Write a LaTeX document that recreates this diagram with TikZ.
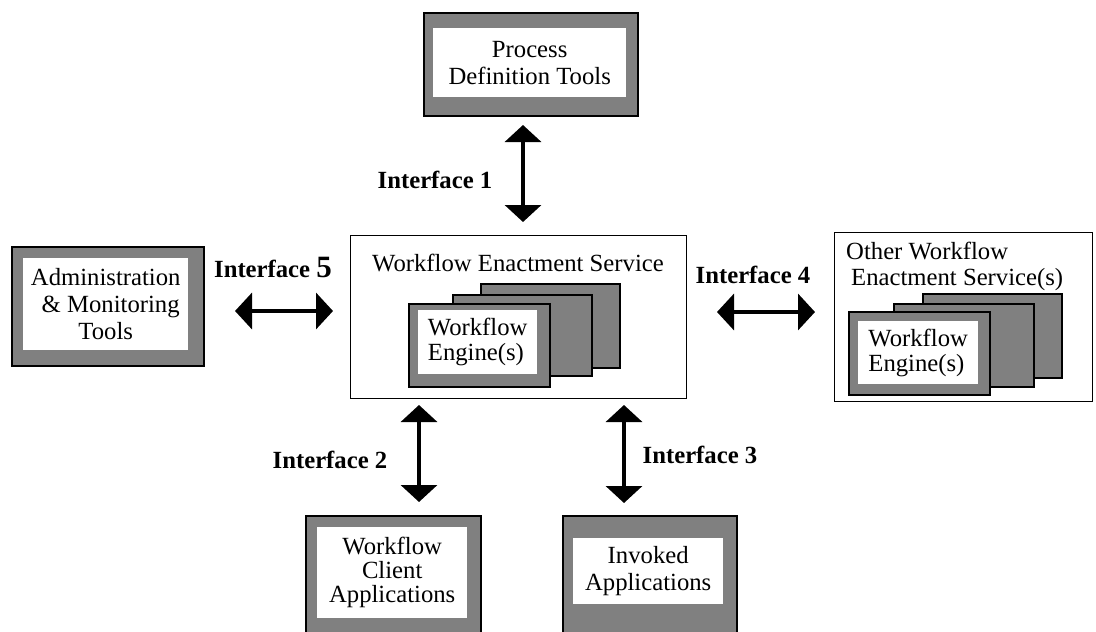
\documentclass[tikz,border=0pt]{standalone}
\usepackage{fontspec}
\setmainfont{Liberation Serif}
\usepackage{xcolor}
\usetikzlibrary{arrows.meta,positioning}
\definecolor{boxgray}{HTML}{808080}

\begin{document}
\begin{tikzpicture}[x=1pt,y=-1pt,font=\fontsize{24.7}{27}\selectfont,
  frame/.style={draw,line width=1.8pt,fill=boxgray,inner sep=0pt,anchor=north west},
  pane/.style={fill=white,inner sep=0pt,anchor=north west,align=center},
  service/.style={draw,line width=1.3pt,fill=white,inner sep=0pt,anchor=north west},
  iface/.style={line width=3.6pt,{Triangle[length=17pt,width=36pt]}-{Triangle[length=17pt,width=36pt]}},
  lbl/.style={font=\fontsize{24.7}{27}\selectfont\bfseries,inner sep=0pt}]
\clip (0,0) rectangle (1096,632);
% process definition tools
\node[frame,minimum width=214pt,minimum height=103pt] (pdt) at (423,12) {};
\node[pane,minimum width=193pt,minimum height=69pt] (pdtpane) at (433,28) {Process\\Definition Tools};
% enactment service
\node[service,minimum width=336pt,minimum height=163pt] (wes) at (350,235) {};
\node[inner sep=0pt] (westitle) at (518,263) {Workflow Enactment Service};
\node[frame,minimum width=139pt,minimum height=84pt] (wesback) at (480,283) {};
\node[frame,minimum width=139pt,minimum height=81pt] (wesmid) at (452,294) {};
\node[frame,minimum width=141pt,minimum height=83pt] (wesfront) at (408,303) {};
\node[pane,minimum width=119pt,minimum height=64pt,align=left,
  font=\fontsize{24.7}{25}\selectfont] (wesengine) at (418,310) {Workflow\\Engine(s)};
% administration
\node[frame,minimum width=192pt,minimum height=119pt] (amt) at (11,246) {};
\node[pane,minimum width=165pt,minimum height=92pt] (amtpane) at (23,258)
  {Administration\\\hspace*{10pt}\& Monitoring\\Tools};
% other enactment services
\node[service,minimum width=258pt,minimum height=169pt] (ows) at (834,232) {};
\node[inner sep=0pt,align=left,anchor=west,font=\fontsize{24.7}{26}\selectfont] (owstitle) at (846,266)
  {Other Workflow\\\hspace*{5pt}Enactment Service(s)};
\node[frame,minimum width=139pt,minimum height=84pt] (owsback) at (922,293) {};
\node[frame,minimum width=140pt,minimum height=83pt] (owsmid) at (893,303) {};
\node[frame,minimum width=141pt,minimum height=83pt] (owsfront) at (848,311) {};
\node[pane,minimum width=120pt,minimum height=63pt,align=left,
  font=\fontsize{24.7}{25}\selectfont] (owsengine) at (858,321) {Workflow\\Engine(s)};
% client and invoked applications
\node[frame,minimum width=175pt,minimum height=150pt] (wca) at (305,515) {};
\node[pane,minimum width=150pt,minimum height=91pt,
  font=\fontsize{24.7}{24}\selectfont] (wcapane) at (317,527) {Workflow\\Client\\Applications};
\node[frame,minimum width=174pt,minimum height=150pt] (ia) at (562,515) {};
\node[pane,minimum width=150pt,minimum height=66pt] (iapane) at (573,538) {Invoked\\Applications};
% interfaces
\coordinate (i1a) at (523,125); \coordinate (i1b) at (523,222);
\coordinate (i5a) at (235,311); \coordinate (i5b) at (333,311);
\coordinate (i4a) at (717,312); \coordinate (i4b) at (815,312);
\coordinate (i2a) at (419,405); \coordinate (i2b) at (419,502);
\coordinate (i3a) at (624,405); \coordinate (i3b) at (624,503);
\draw[iface] (i1a) -- (i1b);
\draw[iface] (i5a) -- (i5b);
\draw[iface] (i4a) -- (i4b);
\draw[iface] (i2a) -- (i2b);
\draw[iface] (i3a) -- (i3b);
\node[lbl] (if1) at (435,180) {Interface 1};
\node[lbl] (if5) at (273,267) {Interface {\fontsize{31}{31}\selectfont 5}};
\node[lbl] (if4) at (753,275) {Interface 4};
\node[lbl] (if2) at (330,460) {Interface 2};
\node[lbl] (if3) at (700,455) {Interface 3};
\end{tikzpicture}
\end{document}
